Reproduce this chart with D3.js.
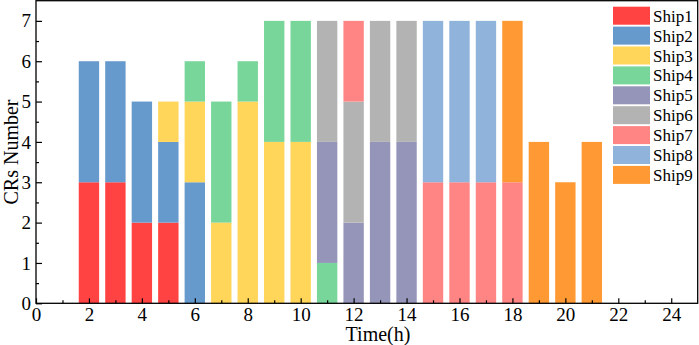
<!DOCTYPE html>
<html>
<head>
<meta charset="utf-8">
<script src="https://cdn.jsdelivr.net/npm/d3@7"></script>
<style>
  body { margin: 0; background: #fff; }
  text { font-family: "Liberation Serif", "Times New Roman", serif; fill: #000; }
</style>
</head>
<body>
<div id="chart"></div>
<script>
var width = 699,
    height = 345

// data: CRs per ship for each hour
var hours = [2, 3, 4, 5, 6, 7, 8, 9, 10, 11, 12, 13, 14, 15, 16, 17, 18, 19, 20, 21]
var ship1 = [3, 3, 2, 2, 0, 0, 0, 0, 0, 0, 0, 0, 0, 0, 0, 0, 0, 0, 0, 0]
var ship2 = [3, 3, 3, 2, 3, 0, 0, 0, 0, 0, 0, 0, 0, 0, 0, 0, 0, 0, 0, 0]
var ship3 = [0, 0, 0, 1, 2, 2, 5, 4, 4, 0, 0, 0, 0, 0, 0, 0, 0, 0, 0, 0]
var ship4 = [0, 0, 0, 0, 1, 3, 1, 3, 3, 1, 0, 0, 0, 0, 0, 0, 0, 0, 0, 0]
var ship5 = [0, 0, 0, 0, 0, 0, 0, 0, 0, 3, 2, 4, 4, 0, 0, 0, 0, 0, 0, 0]
var ship6 = [0, 0, 0, 0, 0, 0, 0, 0, 0, 3, 3, 3, 3, 0, 0, 0, 0, 0, 0, 0]
var ship7 = [0, 0, 0, 0, 0, 0, 0, 0, 0, 0, 2, 0, 0, 3, 3, 3, 3, 0, 0, 0]
var ship8 = [0, 0, 0, 0, 0, 0, 0, 0, 0, 0, 0, 0, 0, 4, 4, 4, 0, 0, 0, 0]
var ship9 = [0, 0, 0, 0, 0, 0, 0, 0, 0, 0, 0, 0, 0, 0, 0, 0, 4, 4, 3, 4]

var shipNames = ['Ship1', 'Ship2', 'Ship3', 'Ship4', 'Ship5', 'Ship6', 'Ship7', 'Ship8', 'Ship9']
var shipValues = [ship1, ship2, ship3, ship4, ship5, ship6, ship7, ship8, ship9]
var colors = ['#ff4242', '#6699cc', '#ffd55a', '#78d69a', '#9595ba', '#b3b3b3', '#ff8585', '#8fb3da', '#ff9933']

var xTicks = [0, 2, 4, 6, 8, 10, 12, 14, 16, 18, 20, 22, 24]
var yTicks = [0, 1, 2, 3, 4, 5, 6, 7]

// plot frame
var plotLeft = 36, plotRight = 697.7, plotTop = 0.7, plotBottom = 303.3

var svg = d3.select('#chart')
    .append('svg')
    .attr('width', width)
    .attr('height', height)

// scales
var xscale = d3.scaleLinear()
    .domain([0, 25])
    .range([plotLeft, plotRight])

var yscale = d3.scaleLinear()
    .domain([0, 7.5])
    .range([plotBottom, plotTop])

// table for the stack
var table = hours.map((h, i) => {
    var row = { hour: h }
    shipNames.forEach((s, j) => { row[s] = shipValues[j][i] })
    return row
})
var series = d3.stack().keys(shipNames)(table)

var barwidth = (xscale(1) - xscale(0)) * 0.77

// draw bars
svg.append('g').selectAll('g')
    .data(series)
    .enter()
    .append('g')
    .attr('fill', (d, i) => colors[i])
    .selectAll('rect')
    .data(d => d.filter(p => p[1] > p[0]))
    .enter()
    .append('rect')
    .attr('x', d => xscale(d.data.hour) - barwidth / 2)
    .attr('y', d => yscale(d[1]))
    .attr('width', barwidth)
    .attr('height', d => yscale(d[0]) - yscale(d[1]))

// axes
var xaxis = d3.axisBottom(xscale)
    .tickValues(xTicks)
    .tickSize(-5)
    .tickPadding(4)
svg.append('g')
    .attr('transform', 'translate(0,' + plotBottom + ')')
    .call(xaxis)
var xminor = d3.axisBottom(xscale)
    .tickValues(d3.range(1, 25, 2))
    .tickSize(-3)
    .tickFormat('')
svg.append('g')
    .attr('transform', 'translate(0,' + plotBottom + ')')
    .call(xminor)

var yaxis = d3.axisLeft(yscale)
    .tickValues(yTicks)
    .tickSize(-6)
    .tickPadding(5)
svg.append('g')
    .attr('transform', 'translate(' + plotLeft + ',0)')
    .call(yaxis)
var yminor = d3.axisLeft(yscale)
    .tickValues(d3.range(0.5, 7.5, 1))
    .tickSize(-3)
    .tickFormat('')
svg.append('g')
    .attr('transform', 'translate(' + plotLeft + ',0)')
    .call(yminor)

svg.selectAll('.domain').remove()
svg.selectAll('.tick line').attr('stroke', '#000').attr('stroke-width', 1.2)
svg.selectAll('.tick text')
    .style('font-size', '19px')
    .style('font-family', '"Liberation Serif", "Times New Roman", serif')

// frame
svg.append('rect')
    .attr('x', plotLeft)
    .attr('y', plotTop)
    .attr('width', plotRight - plotLeft)
    .attr('height', plotBottom - plotTop)
    .attr('fill', 'none')
    .attr('stroke', '#000')
    .attr('stroke-width', 1.3)

// axis titles
svg.append('text')
    .attr('x', 378)
    .attr('y', 341)
    .attr('text-anchor', 'middle')
    .style('font-size', '20px')
    .text('Time(h)')

svg.append('text')
    .attr('transform', 'translate(18,' + ((plotTop + plotBottom) / 2) + ') rotate(-90)')
    .attr('text-anchor', 'middle')
    .style('font-size', '20px')
    .text('CRs Number')

// legend
var legend = svg.append('g')
    .selectAll('g')
    .data(shipNames)
    .enter()
    .append('g')
    .attr('transform', (d, i) => 'translate(613,' + (6.7 + i * 19.9) + ')')
legend.append('rect')
    .attr('width', 37)
    .attr('height', 18)
    .attr('fill', (d, i) => colors[i])
legend.append('text')
    .attr('x', 40)
    .attr('y', 15)
    .style('font-size', '17px')
    .text(d => d)
</script>
</body>
</html>
